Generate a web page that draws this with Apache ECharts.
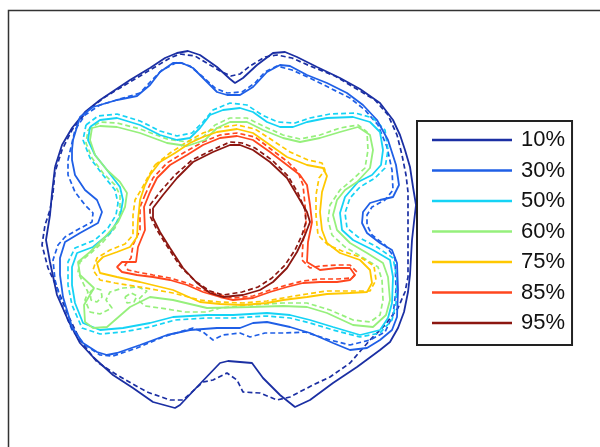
<!DOCTYPE html>
<html><head><meta charset="utf-8">
<script src="https://cdn.jsdelivr.net/npm/echarts@6/dist/echarts.min.js"></script>
<style>html,body{margin:0;padding:0;background:#fff}#c{width:600px;height:447px}</style>
</head><body><div id="c"></div><script>
const levels = ['10%', '30%', '50%', '60%', '75%', '85%', '95%'];
const levelColors = ['#1b2fa3', '#1f5fe6', '#15d3f5', '#96f07c', '#ffc800', '#ff461e', '#8c1610'];

// Contour traces (data units: plan coordinates, y downward)
const c10s = [[55,167],[62,145],[72,128],[85,112],[100,100],[115,90],[130,80],[150,68],[165,58],[177,53],[188,51],[200,55],[217,67],[230,79],[235,83],[243,78],[257,65],[273,53],[285,52],[297,57],[317,67],[340,78],[360,89],[380,103],[393,120],[400,135],[405,150],[410,167],[413,187],[416,205],[414,222],[412,240],[411,257],[410,275],[408,292],[404,312],[398,328],[390,342],[380,350],[357,367],[333,383],[310,400],[295,407],[280,395],[263,378],[252,363],[228,361],[220,363],[197,387],[180,405],[175,408],[153,402],[133,388],[113,375],[93,357],[80,343],[68,320],[57,295],[50,262],[46,240],[50,215],[52,193],[55,167]];
const c10d = [[53,193],[55,172],[62,150],[72,130],[88,110],[105,97],[125,85],[150,70],[170,58],[180,54],[195,56],[210,65],[222,72],[231,76],[240,74],[250,66],[265,57],[277,55],[292,58],[310,66],[335,76],[355,88],[375,100],[388,115],[397,135],[402,155],[406,175],[408,192],[408,215],[408,245],[408,277],[405,292],[398,308],[385,325],[370,340],[350,363],[330,377],[313,385],[290,397],[277,400],[260,393],[243,392],[237,380],[227,373],[213,380],[203,382],[183,400],[170,400],[147,392],[117,375],[97,362],[80,340],[68,315],[58,290],[48,268],[42,245],[45,225],[50,210],[53,193]];
const c30s = [[72,150],[73,140],[80,117],[93,107],[117,100],[137,96],[150,85],[160,72],[173,63],[182,63],[193,68],[207,82],[217,92],[227,95],[240,95],[253,87],[267,72],[280,65],[290,66],[307,75],[327,83],[347,93],[363,105],[377,120],[388,140],[396,165],[399,185],[393,197],[380,200],[370,203],[363,212],[362,223],[367,233],[380,243],[392,250],[397,263],[398,290],[397,317],[392,330],[380,340],[367,348],[350,350],[333,343],[310,333],[290,327],[267,322],[253,323],[240,328],[217,328],[190,330],[167,335],[140,345],[117,353],[107,355],[97,352],[83,343],[72,327],[63,297],[60,275],[60,258],[65,242],[80,233],[98,223],[102,212],[97,200],[85,190],[75,175],[72,160],[72,150]];
const c30d = [[68,160],[75,130],[85,115],[100,105],[120,99],[140,93],[152,80],[162,70],[178,62],[190,66],[203,77],[215,88],[227,93],[242,92],[255,83],[265,72],[277,66],[292,70],[310,78],[330,88],[350,98],[365,110],[378,125],[387,147],[392,170],[393,190],[385,200],[372,207],[367,215],[367,225],[372,235],[385,245],[395,258],[396,290],[393,315],[385,332],[370,340],[350,345],[330,340],[305,332],[285,333],[265,333],[250,337],[240,333],[223,335],[213,340],[203,332],[193,328],[163,337],[137,348],[113,356],[100,355],[85,345],[72,330],[62,305],[55,280],[53,260],[58,245],[65,237],[77,230],[92,222],[93,213],[85,205],[75,192],[68,175],[68,160]];
const c50s = [[90,127],[100,120],[117,118],[140,125],[160,135],[177,140],[190,138],[200,128],[210,115],[223,110],[240,108],[253,112],[267,122],[280,127],[293,127],[307,122],[327,118],[353,117],[370,122],[380,132],[383,150],[381,165],[372,175],[358,182],[345,197],[340,213],[342,230],[353,240],[373,250],[390,260],[393,277],[392,303],[388,318],[380,330],[360,335],[333,327],[310,320],[290,315],[267,313],[233,315],[207,315],[173,317],[150,323],[123,328],[100,330],[83,323],[75,303],[72,285],[72,267],[77,253],[93,247],[110,233],[120,217],[123,200],[120,187],[107,170],[95,155],[88,140],[90,127]];
const c50d = [[86,125],[98,116],[117,114],[140,121],[160,131],[177,136],[192,133],[203,122],[213,110],[230,103],[247,105],[262,115],[278,122],[295,123],[310,118],[330,114],[355,113],[373,118],[385,130],[388,150],[385,168],[375,178],[360,187],[350,198],[345,213],[347,228],[358,237],[377,247],[393,258],[397,278],[396,303],[392,320],[380,333],[360,337],[333,330],[310,323],[290,318],[267,316],[233,318],[207,318],[175,320],[150,327],[123,332],[100,334],[82,328],[72,305],[68,285],[68,262],[75,248],[95,240],[108,228],[116,215],[118,203],[115,190],[103,175],[90,158],[83,140],[86,125]];
const c60s = [[92,128],[100,126],[117,127],[140,133],[167,143],[187,146],[205,140],[217,128],[230,122],[247,122],[263,130],[283,138],[300,142],[320,138],[340,132],[358,127],[370,135],[373,150],[370,168],[357,182],[345,190],[337,200],[333,215],[337,230],[350,243],[367,253],[383,263],[388,277],[390,300],[386,315],[373,327],[353,325],[327,313],[307,307],[283,306],[250,307],[207,308],[173,300],[150,297],[130,307],[107,327],[93,328],[85,322],[84,305],[94,288],[80,275],[78,262],[90,252],[105,237],[118,222],[125,207],[127,193],[120,182],[107,170],[95,155],[90,140],[92,128]];
const c60d = [[88,130],[100,122],[117,123],[140,129],[167,139],[187,142],[203,137],[215,125],[230,118],[247,118],[263,126],[283,135],[300,139],[320,135],[340,128],[358,125],[367,132],[368,150],[365,168],[352,180],[340,190],[330,205],[328,220],[332,235],[345,247],[362,257],[378,267],[382,280],[383,300],[380,315],[370,322],[353,320],[330,310],[307,303],[283,303],[250,305],[220,308],[207,312],[185,312],[160,308],[145,306],[138,300],[147,291],[138,287],[123,288],[110,292],[106,300],[112,308],[100,314],[90,312],[85,300],[88,292],[84,285],[78,272],[80,262],[92,252],[103,242],[115,228],[120,212],[120,195],[115,185],[103,173],[92,158],[86,143],[88,130]];
const c60dIsleA = [[90,292],[95,288],[101,290],[102,297],[97,302],[91,300],[90,292]];
const c60dIsleB = [[125,297],[131,293],[137,296],[134,302],[127,303],[125,297]];
const c75s = [[160,162],[175,153],[190,143],[203,137],[217,132],[237,129],[253,133],[270,145],[287,157],[307,165],[323,168],[327,176],[322,192],[320,212],[322,230],[327,243],[340,253],[360,260],[370,270],[372,283],[367,292],[350,293],[327,294],[307,297],[283,300],[267,303],[243,305],[220,304],[200,302],[173,290],[140,282],[117,277],[100,273],[97,263],[103,257],[117,252],[130,247],[137,237],[138,220],[140,200],[145,185],[150,175],[160,162]];
const c75d = [[155,165],[170,153],[187,142],[203,133],[217,128],[237,125],[255,129],[272,140],[290,152],[308,160],[322,163],[325,170],[319,178],[316,195],[316,215],[318,235],[328,245],[342,251],[360,257],[374,266],[376,280],[370,291],[352,291],[327,291],[307,294],[283,298],[267,301],[243,303],[220,302],[200,300],[173,293],[140,287],[115,283],[100,280],[93,270],[97,258],[110,250],[125,244],[133,235],[133,215],[135,200],[141,190],[148,177],[155,165]];
const c85s = [[150,192],[157,178],[170,165],[187,155],[203,145],[220,138],[237,136],[253,140],[270,152],[287,165],[300,175],[307,185],[310,205],[312,222],[308,242],[307,262],[320,270],[337,268],[350,268],[355,275],[350,280],[337,282],[320,282],[303,283],[287,287],[270,292],[253,298],[233,300],[220,297],[203,292],[187,285],[170,280],[153,277],[137,275],[122,272],[117,267],[122,262],[136,262],[138,247],[145,230],[144,207],[150,192]];
const c85d = [[145,195],[153,178],[167,163],[185,152],[203,142],[220,135],[237,133],[255,137],[272,150],[288,162],[298,172],[303,185],[305,205],[306,222],[303,242],[302,260],[310,268],[320,266],[337,265],[350,265],[357,272],[352,278],[337,279],[320,279],[303,281],[287,285],[270,290],[253,296],[233,298],[220,295],[203,290],[187,283],[170,278],[153,275],[137,272],[128,270],[125,265],[131,258],[133,245],[140,230],[140,207],[145,195]];
const c95s = [[153,208],[163,195],[177,178],[193,162],[213,152],[230,145],[240,145],[253,150],[270,162],[287,178],[297,195],[307,212],[310,222],[305,235],[297,252],[287,268],[273,282],[260,290],[243,295],[223,297],[210,293],[197,283],[183,268],[170,248],[160,232],[153,218],[153,208]];
const c95d = [[150,205],[160,192],[175,175],[192,160],[212,150],[230,142],[242,143],[255,148],[272,160],[288,176],[298,193],[305,210],[306,222],[302,235],[295,250],[285,265],[272,278],[258,287],[242,292],[223,295],[210,291],[195,281],[180,266],[167,246],[157,230],[150,216],[150,205]];
const markerPoint = [[404,339]];

const solids = [c10s, c30s, c50s, c60s, c75s, c85s, c95s];
const dashes = [[c10d], [c30d], [c50d], [c60d, c60dIsleA, c60dIsleB], [c75d], [c85d], [c95d]];

const series = [];
levels.forEach((name, i) => {
  dashes[i].forEach((d, k) => {
    series.push({
      name: name + ' dashed ' + k, type: 'line', data: d, showSymbol: false, silent: true,
      lineStyle: { color: levelColors[i], width: 1.7, type: [5, 3] },
      itemStyle: { color: levelColors[i] }, z: 2
    });
  });
});
levels.forEach((name, i) => {
  series.push({
    name: name, type: 'line', data: solids[i], showSymbol: false, silent: true,
    lineStyle: { color: levelColors[i], width: 1.8 },
    itemStyle: { color: levelColors[i] }, z: 3
  });
});
series.push({
  name: 'marker', type: 'scatter', data: markerPoint, symbol: 'emptyCircle', symbolSize: 10,
  itemStyle: { color: '#fff', borderColor: '#1e3fc0', borderWidth: 1.5 }, silent: true, z: 4
});

const chart = echarts.init(document.getElementById('c'), null, { renderer: 'canvas' });
chart.setOption({
  animation: false,
  backgroundColor: '#ffffff',
  grid: { left: 0, right: 0, top: 0, bottom: 0 },
  xAxis: { type: 'value', min: 0, max: 600, show: false },
  yAxis: { type: 'value', min: 0, max: 447, inverse: true, show: false },
  legend: {
    data: levels, orient: 'vertical', left: 417, top: 121,
    icon: 'rect', itemWidth: 80, itemHeight: 2.5, itemGap: 6.5,
    padding: [7, 7, 10, 15],
    borderColor: '#222', borderWidth: 2, backgroundColor: '#fff',
    selectedMode: false,
    textStyle: { fontFamily: 'Liberation Sans, Arial, sans-serif', fontSize: 22, lineHeight: 24, color: '#111', padding: [0, 0, 0, 4] }
  },
  graphic: [{
    type: 'rect', left: 6, top: 8, silent: true, z: -1,
    shape: { x: 0, y: 0, width: 700, height: 600 },
    style: { fill: 'none', stroke: '#333', lineWidth: 1.5 }
  }],
  series: series
});
</script></body></html>
